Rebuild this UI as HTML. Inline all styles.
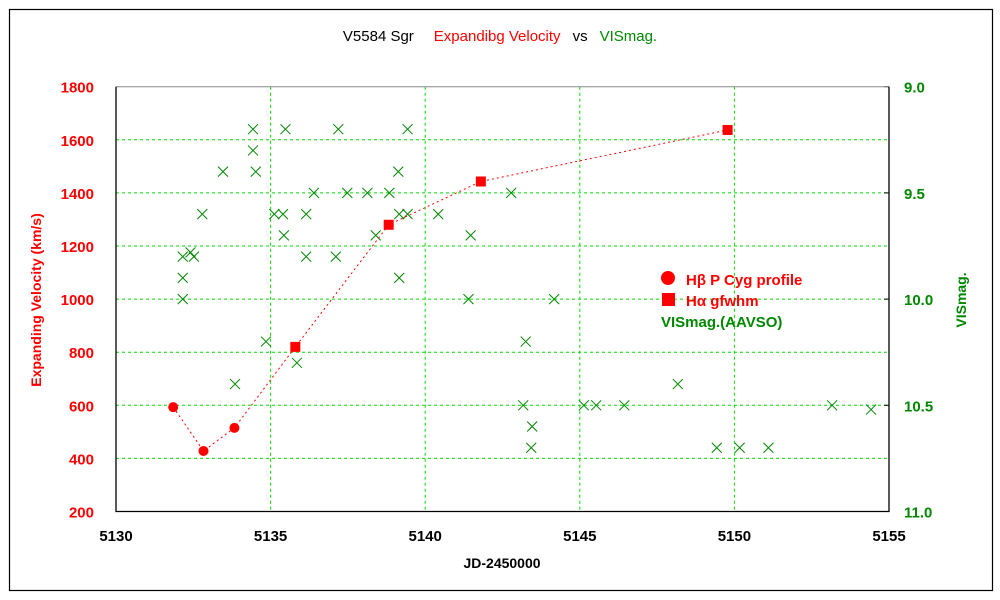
<!DOCTYPE html>
<html><head><meta charset="utf-8"><style>
body{margin:0;background:#fff}
svg{display:block;font-family:"Liberation Sans","Noto Sans CJK JP",sans-serif}
</style></head><body>
<svg id="chart" width="1000" height="600">
<rect x="9.5" y="9.5" width="983" height="581" fill="none" stroke="#000" stroke-width="1.2"/>
<text x="500" y="41" text-anchor="middle" font-size="15"><tspan fill="#000">V5584 Sgr</tspan><tspan fill="#f00" dx="20">Expandibg Velocity</tspan><tspan fill="#000" dx="12">vs</tspan><tspan fill="#080" dx="12">VISmag.</tspan></text>
<g id="grid"></g>
<g id="axes"></g>
<g id="marks"></g>
<text x="41" y="300" transform="rotate(-90 41 300)" text-anchor="middle" font-size="14" font-weight="bold" fill="#f00">Expanding Velocity (km/s)</text>
<text x="966" y="300" transform="rotate(-90 966 300)" text-anchor="middle" font-size="14" font-weight="bold" fill="#080">VISmag.</text>
<text x="502" y="568" text-anchor="middle" font-size="14" font-weight="bold" fill="#000">JD-2450000</text>
<g>
<circle cx="668" cy="278" r="7" fill="#f00"/>
<text x="686" y="285" font-size="15" font-weight="bold" fill="#f00">Hβ P Cyg profile</text>
<rect x="662" y="293" width="13" height="13" fill="#f00"/>
<text x="686" y="306" font-size="15" font-weight="bold" fill="#f00">Hα gfwhm</text>
<text x="661" y="327" font-size="15" font-weight="bold" fill="#080">VISmag.(AAVSO)</text>
</g>
</svg>
<script>
const xTicks=[5130,5135,5140,5145,5150,5155];
const vTicks=[200,400,600,800,1000,1200,1400,1600,1800];
const magTicks=[9.0,9.5,10.0,10.5,11.0];
const hbJD=[5131.85,5132.83,5133.83];
const hbV=[593,428,515];
const haJD=[5135.80,5138.82,5141.80,5149.78];
const haV=[820,1280,1443,1637];
const visJD=[5134.43,5135.48,5137.19,5139.43,5134.43,5133.46,5134.52,5139.13,5136.40,5137.48,5138.13,5138.84,5132.79,5135.12,5135.40,5136.15,5139.16,5139.43,5140.42,5135.43,5138.40,5132.16,5132.41,5132.52,5136.15,5137.11,5132.16,5139.16,5132.16,5134.85,5135.85,5133.85,5142.78,5141.47,5141.40,5144.17,5143.25,5148.17,5143.17,5145.13,5145.53,5146.44,5153.16,5154.42,5143.46,5143.43,5149.43,5150.17,5151.10];
const visMag=[9.2,9.2,9.2,9.2,9.3,9.4,9.4,9.4,9.5,9.5,9.5,9.5,9.6,9.6,9.6,9.6,9.6,9.6,9.6,9.7,9.7,9.8,9.78,9.8,9.8,9.8,9.9,9.9,10.0,10.2,10.3,10.4,9.5,9.7,10.0,10.0,10.2,10.4,10.5,10.5,10.5,10.5,10.5,10.52,10.6,10.7,10.7,10.7,10.7];
const L=116,R=889,T=86.7,B=511.5;
const X=j=>L+(j-5130)/25*(R-L);
const YV=v=>B-(v-200)/1600*(B-T);
const YM=m=>T+(m-9)/2*(B-T);
const NS='http://www.w3.org/2000/svg';
function mk(p,tag,at){const e=document.createElementNS(NS,tag);for(const k in at)e.setAttribute(k,at[k]);document.getElementById(p).appendChild(e);return e;}
xTicks.forEach(t=>{const x=X(t);
 if(t>5130&&t<5155){const g=mk('grid','line',{x1:x,y1:T,x2:x,y2:B,stroke:'#0d0','stroke-dasharray':'3,3'});
 
 }
 const tx=mk('axes','text',{x:x,y:541,'text-anchor':'middle','font-size':15,'font-weight':'bold',fill:'#000'});tx.textContent=t;
 
 });
vTicks.forEach(t=>{const y=YV(t);
 if(t>200&&t<1800){const g=mk('grid','line',{x1:L,y1:y,x2:R,y2:y,stroke:'#0d0','stroke-dasharray':'3,3'});
 
 }
 const tx=mk('axes','text',{x:94,y:y+6,'text-anchor':'end','font-size':15,'font-weight':'bold',fill:'#f00'});tx.textContent=t;
 
 });
magTicks.forEach(t=>{const y=YM(t);
 const tx=mk('axes','text',{x:904,y:y+6,'font-size':15,'font-weight':'bold',fill:'#080'});tx.textContent=t.toFixed(1);
 
 
 const tk=mk('axes','line',{x1:R-5,y1:y,x2:R,y2:y,stroke:'#000'});
 
 });
let a=mk('axes','path',{d:`M${L},${T}H${R}`,stroke:'#888',fill:'none'});

a=mk('axes','path',{d:`M${L},${T}V${B}H${R}V${T}`,stroke:'#000',fill:'none','stroke-width':1.3});

visJD.forEach((j,i)=>{const x=X(j),y=YM(visMag[i]);
 const p=mk('marks','path',{d:`M${x-5},${y-5}L${x+5},${y+5}M${x+5},${y-5}L${x-5},${y+5}`,stroke:'#080','stroke-width':1});
 
 });
const allJD=hbJD.concat(haJD),allV=hbV.concat(haV);
const ln=mk('marks','polyline',{points:allJD.map((j,i)=>X(j)+','+YV(allV[i])).join(' '),fill:'none',stroke:'#f00','stroke-dasharray':'2,3'});


hbJD.forEach((j,i)=>{const c=mk('marks','circle',{cx:X(j),cy:YV(hbV[i]),r:5,fill:'#f00'});
 
 });
haJD.forEach((j,i)=>{const r=mk('marks','rect',{x:X(j)-5,y:YV(haV[i])-5,width:10,height:10,fill:'#f00'});
 
 });
</script>
</body></html>
